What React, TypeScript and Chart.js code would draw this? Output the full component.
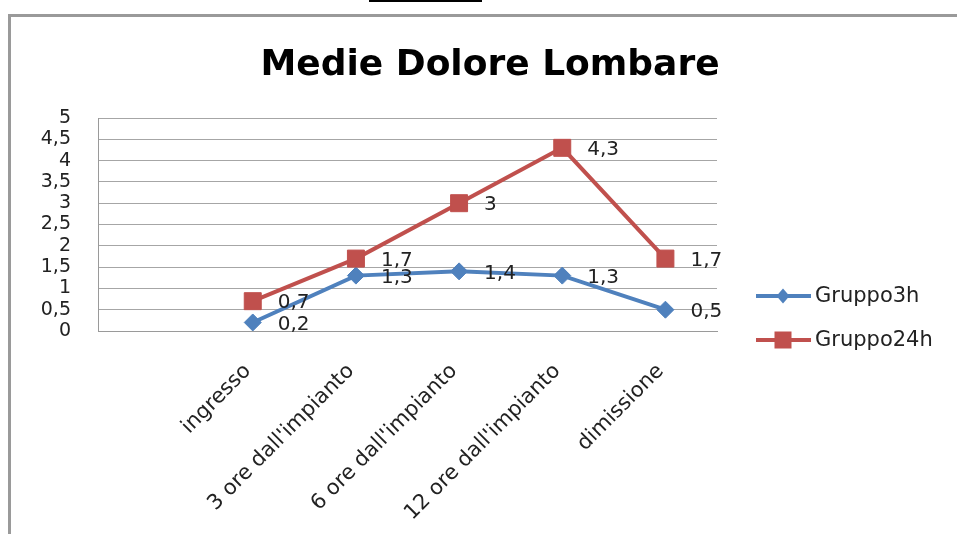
import React, { useEffect, useRef } from 'react';
import { Chart, registerables } from 'chart.js';

Chart.register(...registerables);

const chartTitle = 'Medie Dolore Lombare';
const categories = ['', 'ingresso', "3 ore dall'impianto", "6 ore dall'impianto", "12 ore dall'impianto", 'dimissione'];
const seriesNames = ['Gruppo3h', 'Gruppo24h'];
const gruppo3h: (number | null)[] = [null, 0.2, 1.3, 1.4, 1.3, 0.5];
const gruppo24h: (number | null)[] = [null, 0.7, 1.7, 3, 4.3, 1.7];
const yMin = 0;
const yMax = 5;
const yStep = 0.5;
const yTickLabels = ['0', '0,5', '1', '1,5', '2', '2,5', '3', '3,5', '4', '4,5', '5'];

const BLUE = '#4f81bd';
const RED = '#c0504d';
const FONT = "'DejaVu Sans', sans-serif";

const fmt = (v: number) => String(v).replace('.', ',');

const titlePlugin = {
  id: 'customTitle',
  afterDraw(chart: any) {
    const ctx = chart.ctx;
    ctx.save();
    ctx.font = `bold 36px ${FONT}`;
    ctx.fillStyle = '#000';
    ctx.textAlign = 'center';
    ctx.textBaseline = 'alphabetic';
    ctx.fillText(chartTitle, 490, 75);
    ctx.restore();
  },
};

const dataLabelPlugin = {
  id: 'dataLabels',
  afterDatasetsDraw(chart: any) {
    const ctx = chart.ctx;
    ctx.save();
    ctx.font = `20px ${FONT}`;
    ctx.fillStyle = '#222';
    ctx.textAlign = 'left';
    ctx.textBaseline = 'middle';
    chart.data.datasets.forEach((ds: any, di: number) => {
      const meta = chart.getDatasetMeta(di);
      meta.data.forEach((pt: any, i: number) => {
        const v = ds.data[i];
        if (v === null || v === undefined) return;
        ctx.fillText(fmt(v), pt.x + 25, pt.y + 2);
      });
    });
    ctx.restore();
  },
};

const legendPlugin = {
  id: 'customLegend',
  afterDraw(chart: any) {
    const ctx = chart.ctx;
    ctx.save();
    chart.data.datasets.forEach((ds: any, i: number) => {
      const y = 296 + i * 44;
      ctx.strokeStyle = ds.borderColor;
      ctx.lineWidth = 4;
      ctx.beginPath();
      ctx.moveTo(756, y);
      ctx.lineTo(811, y);
      ctx.stroke();
      ctx.fillStyle = ds.borderColor;
      const cx = 783;
      if (ds.pointStyle === 'rectRot') {
        ctx.beginPath();
        ctx.moveTo(cx, y - 7.5);
        ctx.lineTo(cx + 6.5, y);
        ctx.lineTo(cx, y + 7.5);
        ctx.lineTo(cx - 6.5, y);
        ctx.closePath();
        ctx.fill();
      } else {
        ctx.fillRect(cx - 8.5, y - 8.5, 17, 17);
      }
      ctx.font = `21px ${FONT}`;
      ctx.fillStyle = '#222';
      ctx.textAlign = 'left';
      ctx.textBaseline = 'middle';
      ctx.fillText(ds.label, 815, y + 1);
    });
    ctx.restore();
  },
};

export default function App() {
  const ref = useRef<HTMLCanvasElement | null>(null);

  useEffect(() => {
    if (!ref.current) return;
    const chart = new Chart(ref.current, {
      type: 'line',
      data: {
        labels: categories,
        datasets: [
          {
            label: seriesNames[0],
            data: gruppo3h,
            borderColor: BLUE,
            backgroundColor: BLUE,
            borderWidth: 4,
            pointStyle: 'rectRot',
            pointRadius: 8.5,
            pointBorderWidth: 1,
            pointBorderColor: BLUE,
            pointBackgroundColor: BLUE,
            tension: 0,
            order: 2,
          },
          {
            label: seriesNames[1],
            data: gruppo24h,
            borderColor: RED,
            backgroundColor: RED,
            borderWidth: 4,
            pointStyle: 'rect',
            pointRadius: 12,
            pointBorderWidth: 1,
            pointBorderColor: RED,
            pointBackgroundColor: RED,
            tension: 0,
            order: 1,
          },
        ] as any,
      },
      options: {
        animation: false,
        responsive: false,
        maintainAspectRatio: false,
        layout: { padding: { left: 0, top: 118, right: 240, bottom: 0 } },
        plugins: {
          legend: { display: false },
          title: { display: false },
          tooltip: { enabled: false },
        },
        scales: {
          x: {
            offset: true,
            grid: { display: false, drawTicks: false },
            border: { display: true, color: '#9a9a9a', width: 1 },
            ticks: {
              autoSkip: false,
              minRotation: 45,
              maxRotation: 45,
              padding: 28,
              labelOffset: -5,
              color: '#222',
              font: { family: FONT, size: 21 },
            },
            afterFit(scale: any) {
              scale.height = 203;
            },
          },
          y: {
            min: yMin,
            max: yMax,
            grid: { color: '#a6a6a6', lineWidth: 1, drawTicks: false },
            border: { display: true, color: '#9a9a9a', width: 1 },
            ticks: {
              stepSize: yStep,
              autoSkip: false,
              padding: 27,
              color: '#222',
              font: { family: FONT, size: 19 },
              callback: (_v: any, i: number) => yTickLabels[i],
            },
            afterFit(scale: any) {
              scale.width = 98;
            },
          },
        },
      } as any,
      plugins: [titlePlugin, dataLabelPlugin, legendPlugin],
    });
    return () => chart.destroy();
  }, []);

  return (
    <div style={{ position: 'fixed', left: 0, top: 0, width: 957, height: 534, background: '#fff', overflow: 'hidden' }}>
      <div style={{ position: 'absolute', left: 369, top: 0, width: 113, height: 2, background: '#000' }} />
      <div
        style={{
          position: 'absolute',
          left: 8,
          top: 14,
          width: 960,
          height: 530,
          borderLeft: '3px solid #9a9a9a',
          borderTop: '3px solid #9a9a9a',
        }}
      />
      <canvas ref={ref} width={957} height={534} style={{ position: 'absolute', left: 0, top: 0, width: 957, height: 534 }} />
    </div>
  );
}
